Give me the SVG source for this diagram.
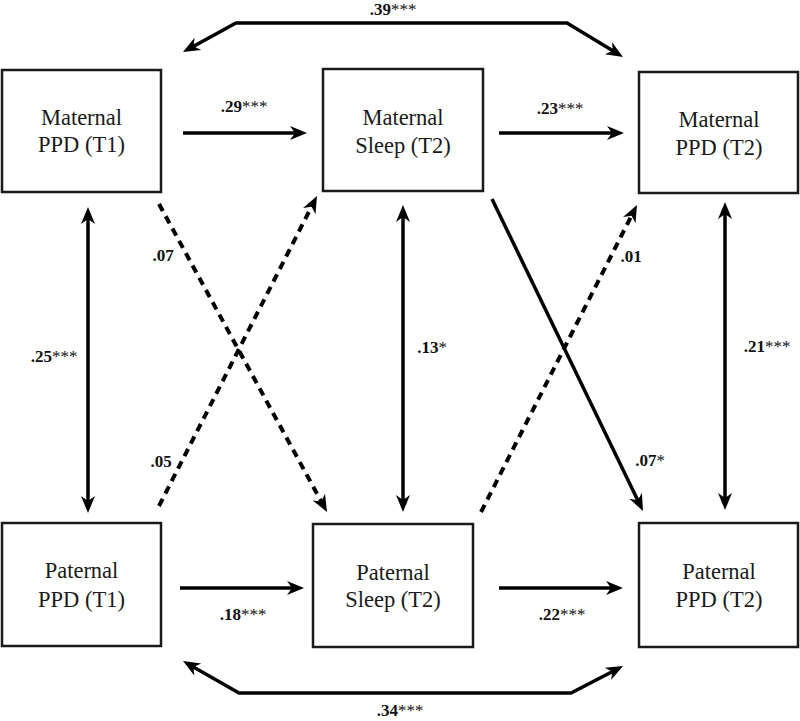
<svg xmlns="http://www.w3.org/2000/svg" width="800" height="721" viewBox="0 0 800 721">
<style>
.box{fill:#fff;stroke:#1a1a1a;stroke-width:2.5}
.nt{font-family:"Liberation Serif","Times New Roman",serif;font-size:22.5px;fill:#1a1a1a;text-anchor:middle}
.lb{font-family:"Liberation Serif","Times New Roman",serif;font-size:17px;font-weight:bold;fill:#111;text-anchor:middle}
.st{font-weight:normal}
.ln{fill:none;stroke:#000;stroke-width:3.5}
.ds{stroke-width:4;stroke-dasharray:8 6}
</style>
<defs>
<marker id="ah" markerUnits="userSpaceOnUse" markerWidth="17" markerHeight="14" refX="8" refY="7" orient="auto-start-reverse" overflow="visible">
<path d="M0,0 L17,7 L0,14 L5,7 Z" fill="#000"/>
</marker>
</defs>
<g id="connectors">
<path class="ln" d="M190.9,47.7 L236,23 L567,23 L615.3,52.3" marker-start="url(#ah)" marker-end="url(#ah)"/>
<path class="ln" d="M190.8,665.5 L239,693 L571,693 L615,670.2" marker-start="url(#ah)" marker-end="url(#ah)"/>
<line class="ln" x1="183" y1="133" x2="298" y2="133" marker-end="url(#ah)"/>
<line class="ln" x1="499" y1="133" x2="615" y2="133" marker-end="url(#ah)"/>
<line class="ln" x1="180" y1="588" x2="295" y2="588" marker-end="url(#ah)"/>
<line class="ln" x1="499" y1="588" x2="614" y2="588" marker-end="url(#ah)"/>
<line class="ln" x1="88" y1="216" x2="88" y2="504" marker-start="url(#ah)" marker-end="url(#ah)"/>
<line class="ln" x1="403" y1="214" x2="403" y2="503" marker-start="url(#ah)" marker-end="url(#ah)"/>
<line class="ln" x1="725" y1="211" x2="725" y2="501" marker-start="url(#ah)" marker-end="url(#ah)"/>
<line class="ln ds" x1="159" y1="204" x2="322.7" y2="504.1" marker-end="url(#ah)"/>
<line class="ln ds" x1="159" y1="506" x2="312.9" y2="204" marker-end="url(#ah)"/>
<line class="ln" x1="492" y1="199" x2="639.1" y2="502.9" marker-end="url(#ah)"/>
<line class="ln ds" x1="481" y1="512" x2="632.9" y2="213" marker-end="url(#ah)"/>
</g>
<g id="labels">
<text class="lb" x="393" y="15">.39<tspan class="st">***</tspan></text>
<text class="lb" x="244" y="112">.29<tspan class="st">***</tspan></text>
<text class="lb" x="560" y="114">.23<tspan class="st">***</tspan></text>
<text class="lb" x="54" y="362">.25<tspan class="st">***</tspan></text>
<text class="lb" x="163" y="261">.07</text>
<text class="lb" x="161" y="467">.05</text>
<text class="lb" x="432" y="353">.13<tspan class="st">*</tspan></text>
<text class="lb" x="631" y="262">.01</text>
<text class="lb" x="767" y="352">.21<tspan class="st">***</tspan></text>
<text class="lb" x="650" y="466">.07<tspan class="st">*</tspan></text>
<text class="lb" x="243" y="620">.18<tspan class="st">***</tspan></text>
<text class="lb" x="562" y="620">.22<tspan class="st">***</tspan></text>
<text class="lb" x="400" y="716">.34<tspan class="st">***</tspan></text>
</g>
<g id="maternal-ppd-t1">
<rect class="box" x="2" y="70" width="159" height="122"/>
<text class="nt" x="81.5" y="125">Maternal</text>
<text class="nt" x="81.5" y="152">PPD (T1)</text>
</g>
<g id="maternal-sleep-t2">
<rect class="box" x="323" y="69" width="160" height="122"/>
<text class="nt" x="403" y="125">Maternal</text>
<text class="nt" x="403" y="153">Sleep (T2)</text>
</g>
<g id="maternal-ppd-t2">
<rect class="box" x="639" y="72" width="159" height="121"/>
<text class="nt" x="719" y="127">Maternal</text>
<text class="nt" x="719" y="155">PPD (T2)</text>
</g>
<g id="paternal-ppd-t1">
<rect class="box" x="2" y="523" width="159" height="123"/>
<text class="nt" x="81.5" y="578">Paternal</text>
<text class="nt" x="81.5" y="607">PPD (T1)</text>
</g>
<g id="paternal-sleep-t2">
<rect class="box" x="313" y="524" width="160" height="123"/>
<text class="nt" x="393" y="580">Paternal</text>
<text class="nt" x="393" y="607">Sleep (T2)</text>
</g>
<g id="paternal-ppd-t2">
<rect class="box" x="639" y="523" width="159" height="124"/>
<text class="nt" x="719" y="579">Paternal</text>
<text class="nt" x="719" y="607">PPD (T2)</text>
</g>
</svg>
